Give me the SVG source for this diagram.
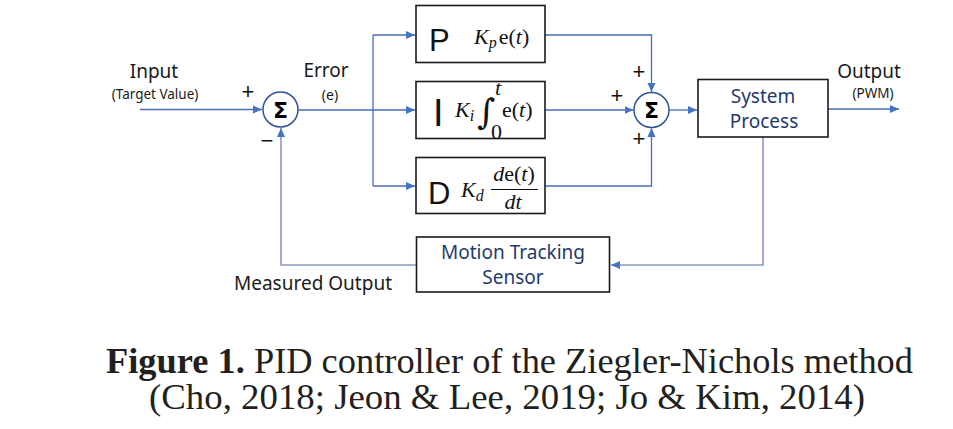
<svg xmlns="http://www.w3.org/2000/svg" width="953" height="429" viewBox="0 0 953 429">
<style>
.ln{fill:none;stroke:#4a6db5;stroke-width:1.3}
.fb{fill:none;stroke:#8d97c2;stroke-width:1.6}
.box{fill:#fff;stroke:#1a1a1a;stroke-width:1.6}
.sum{fill:#fff;stroke:#2f5597;stroke-width:1.5}
.sig{font-family:"DejaVu Sans",sans-serif;font-weight:bold;font-size:22px;fill:#000;text-anchor:middle}
.lbl{font-family:"Noto Sans","Liberation Sans",sans-serif;fill:#1a1a1a}
.blu{font-family:"Noto Sans","Liberation Sans",sans-serif;fill:#1f3a6e;font-size:19px;text-anchor:middle}
.big{font-family:"Liberation Sans","Arial",sans-serif;fill:#111}
.m{font-family:"Liberation Serif","DejaVu Serif",serif;fill:#111;font-size:22px}
.it{font-style:italic}
.pm{font-family:"Liberation Sans",sans-serif;font-size:22px;fill:#111;text-anchor:middle}
.cap{font-family:"Liberation Serif","Times New Roman",serif;font-size:36px;fill:#231f20}
</style>
<defs>
<marker id="ah" markerUnits="userSpaceOnUse" markerWidth="10" markerHeight="10" viewBox="0 0 10 10" refX="9" refY="5" orient="auto">
<path d="M0,1 L9,5 L0,9 Z" fill="#4472c4"/>
</marker>
</defs>

<g id="connectors">
<path class="ln" d="M140,109.5 H262" marker-end="url(#ah)"/>
<path class="ln" d="M298,110 H415" marker-end="url(#ah)"/>
<path class="ln" d="M373,186 V35"/>
<path class="ln" d="M373,35 H415" marker-end="url(#ah)"/>
<path class="ln" d="M373,186 H415" marker-end="url(#ah)"/>
<path class="ln" d="M545,35 H651.5 V92" marker-end="url(#ah)"/>
<path class="ln" d="M545,110 H633.5" marker-end="url(#ah)"/>
<path class="ln" d="M545,186 H651.5 V128" marker-end="url(#ah)"/>
<path class="ln" d="M669.5,110 H697" marker-end="url(#ah)"/>
<path class="ln" d="M828,109 H899" marker-end="url(#ah)"/>
<path class="fb" d="M763,137 V265 H611" marker-end="url(#ah)"/>
<path class="fb" d="M416,265 H281 V128" marker-end="url(#ah)"/>
</g>

<g id="input-label">
<text class="lbl" x="154" y="78" font-size="19" text-anchor="middle">Input</text>
<text class="lbl" x="155" y="99" font-size="13.5" text-anchor="middle">(Target Value)</text>
</g>

<g id="sum1">
<circle class="sum" cx="280.5" cy="109.5" r="17.5"/>
<text class="sig" x="280.5" y="117.5">Σ</text>
<text class="pm" x="248" y="99">+</text>
<text class="pm" x="267" y="148">−</text>
</g>

<g id="error-label">
<text class="lbl" x="326" y="77" font-size="19" text-anchor="middle">Error</text>
<text class="lbl" x="330" y="100" font-size="14" text-anchor="middle">(e)</text>
</g>

<g id="p-block">
<rect class="box" x="416" y="5.5" width="129" height="57"/>
<text class="big" x="429" y="51" font-size="31">P</text>
<text class="m" x="474" y="44"><tspan class="it">K</tspan><tspan class="it" font-size="16" dy="4">p</tspan><tspan dy="-4" dx="2">e(</tspan><tspan class="it">t</tspan>)</text>
</g>

<g id="i-block">
<rect class="box" x="416" y="81.5" width="129" height="57"/>
<text class="big" x="433" y="126" font-size="38">I</text>
<text class="m" x="455" y="117"><tspan class="it">K</tspan><tspan class="it" font-size="16" dy="4">i</tspan></text>
<text x="477" y="124" font-family="DejaVu Serif,serif" font-size="35" fill="#111">∫</text>
<text class="m it" x="495" y="95" font-size="15">t</text>
<text class="m" x="491" y="139" font-size="14">0</text>
<text class="m" x="502" y="117">e(<tspan class="it">t</tspan>)</text>
</g>

<g id="d-block">
<rect class="box" x="416" y="157.5" width="129" height="56"/>
<text class="big" x="428" y="204" font-size="31">D</text>
<text class="m" x="461" y="197"><tspan class="it">K</tspan><tspan class="it" font-size="16" dy="4">d</tspan></text>
<text class="m" x="514" y="181" text-anchor="middle"><tspan class="it">d</tspan>e(<tspan class="it">t</tspan>)</text>
<line x1="491" y1="189.5" x2="538" y2="189.5" stroke="#111" stroke-width="1.2"/>
<text class="m it" x="513" y="209" text-anchor="middle">dt</text>
</g>

<g id="sum2">
<circle class="sum" cx="651.5" cy="110" r="17.5"/>
<text class="sig" x="651.5" y="118">Σ</text>
<text class="pm" x="639" y="79">+</text>
<text class="pm" x="617" y="103">+</text>
<text class="pm" x="639" y="146">+</text>
</g>

<g id="system-process">
<rect class="box" x="698" y="79.5" width="130" height="57.5"/>
<text class="blu" x="763" y="103">System</text>
<text class="blu" x="764" y="128">Process</text>
</g>

<g id="output-label">
<text class="lbl" x="869" y="78" font-size="19" text-anchor="middle">Output</text>
<text class="lbl" x="873" y="98" font-size="13.5" text-anchor="middle">(PWM)</text>
</g>

<g id="sensor">
<rect class="box" x="416.5" y="237" width="193" height="55"/>
<text class="blu" x="513" y="259">Motion Tracking</text>
<text class="blu" x="513" y="284">Sensor</text>
</g>

<g id="measured-label">
<text class="lbl" x="313" y="290" font-size="19" text-anchor="middle">Measured Output</text>
</g>

<g id="caption">
<text class="cap" x="106" y="373" textLength="807" lengthAdjust="spacingAndGlyphs"><tspan font-weight="bold">Figure 1.</tspan> PID controller of the Ziegler-Nichols method</text>
<text class="cap" x="149" y="409" textLength="716" lengthAdjust="spacingAndGlyphs">(Cho, 2018; Jeon &amp; Lee, 2019; Jo &amp; Kim, 2014)</text>
</g>
</svg>
